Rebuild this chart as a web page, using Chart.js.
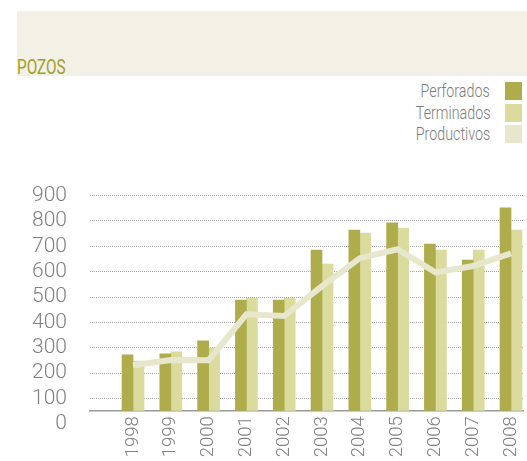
<!DOCTYPE html>
<html>
<head>
<meta charset="utf-8">
<script src="https://cdn.jsdelivr.net/npm/chart.js@4/dist/chart.umd.min.js"></script>
<style>
  html, body { margin: 0; padding: 0; background: #ffffff; }
  #wrap { position: relative; width: 527px; height: 461px; overflow: hidden; }
  #band { position: absolute; left: 17px; top: 11px; width: 510px; height: 65px; background: #f3f1e6; }
  #title { position: absolute; left: 17px; top: 58px; font-family: Roboto, "DejaVu Sans", sans-serif; font-size: 19.5px; line-height: 19.5px; color: #a09e2c; white-space: nowrap; transform: scaleX(0.785); transform-origin: left center; }
  #legend { position: absolute; right: 5px; top: 82px; font-family: Roboto, "DejaVu Sans", sans-serif; font-weight: 300; font-size: 17.5px; color: #7a7a7a; }
  .row { display: flex; justify-content: flex-end; align-items: center; height: 18px; margin-bottom: 3.5px; }
  .row span.t { margin-right: 15px; white-space: nowrap; display: inline-block; transform: scaleX(0.816); transform-origin: right center; }
  .row span.b { display: inline-block; width: 17px; height: 18px; }
  #c { position: absolute; left: 0; top: 0; }
</style>
</head>
<body>
<div id="wrap">
  <div id="band"></div>
  <div id="title">POZOS</div>
  <div id="legend"></div>
  <canvas id="c" width="527" height="461"></canvas>
</div>
<script>
// ---- data ----
const YEARS = [1998, 1999, 2000, 2001, 2002, 2003, 2004, 2005, 2006, 2007, 2008];
const PERFORADOS  = [272, 276, 327, 488, 488, 685, 764, 792, 709, 646, 851];
const TERMINADOS  = [248, 284, 299, 495, 495, 630, 752, 772, 685, 685, 764];
const PRODUCTIVOS = [231, 252, 251, 432, 425, 543, 653, 688, 597, 622, 672];
const SERIES_NAMES = ["Perforados", "Terminados", "Productivos"];
const Y_TICKS = [0, 100, 200, 300, 400, 500, 600, 700, 800, 900];
const BAR_BASE = 52; // the original's axis line sits slightly above the 0 label

const COLORS = ["#afac4b", "#dbdb9e", "#e7e7cd"];

const pts = arr => YEARS.map((y, i) => ({ x: y, y: arr[i] }));

const chart = new Chart(document.getElementById('c'), {
  type: 'bar',
  data: {
    datasets: [
      { label: SERIES_NAMES[0], data: pts(PERFORADOS), backgroundColor: COLORS[0], barThickness: 11, base: BAR_BASE, order: 2 },
      { label: SERIES_NAMES[1], data: pts(TERMINADOS), backgroundColor: COLORS[1], barThickness: 11, base: BAR_BASE, order: 2 },
      { label: SERIES_NAMES[2], type: 'line', data: pts(PRODUCTIVOS), borderColor: COLORS[2], backgroundColor: COLORS[2],
        borderWidth: 6, pointRadius: 0, tension: 0, fill: false, order: 0, borderJoinStyle: 'miter' }
    ]
  },
  options: {
    responsive: false,
    animation: false,
    devicePixelRatio: 1,
    layout: { padding: { left: 0, right: 4, top: 195.5, bottom: 0 } },
    plugins: { legend: { display: false }, tooltip: { enabled: false } },
    scales: {
      x: {
        type: 'linear',
        min: 1996.862,
        max: 2008.317,
        offset: false,
        grid: { display: false, offset: false, drawTicks: false },
        border: { display: true, color: '#9a9a9a', width: 1.5 },
        afterBuildTicks: s => { s.ticks = YEARS.map(v => ({ value: v })); },
        afterFit: s => { s.height = 50.3; s.paddingLeft = 0; s.paddingRight = 0; },
        ticks: {
          autoSkip: false,
          minRotation: 90,
          maxRotation: 90,
          padding: 5.5,
          color: '#808080',
          font: { family: 'Roboto, "DejaVu Sans", sans-serif', size: 18.5, weight: '300' },
          callback: v => String(v)
        }
      },
      y: {
        min: BAR_BASE,
        max: 900,
        afterBuildTicks: s => { s.ticks = Y_TICKS.map(v => ({ value: v })); },
        afterFit: s => { s.width = 90; s.paddingTop = 0; s.paddingBottom = 0; },
        grid: {
          drawTicks: false,
          lineWidth: 1,
          color: c => (c.tick && c.tick.value === 0) ? 'rgba(0,0,0,0)' : '#a5a5a5'
        },
        border: { display: false, dash: [1, 1] },
        ticks: {
          autoSkip: false,
          padding: 23,
          color: '#808080',
          font: { family: 'Roboto, "DejaVu Sans", sans-serif', size: 21, weight: '300' }
        }
      }
    }
  }
});

// legend built from the chart's datasets
const leg = document.getElementById('legend');
chart.data.datasets.forEach((ds, i) => {
  const row = document.createElement('div');
  row.className = 'row';
  const t = document.createElement('span');
  t.className = 't';
  t.textContent = ds.label;
  const b = document.createElement('span');
  b.className = 'b';
  b.style.background = COLORS[i];
  row.appendChild(t);
  row.appendChild(b);
  leg.appendChild(row);
});
</script>
</body>
</html>
